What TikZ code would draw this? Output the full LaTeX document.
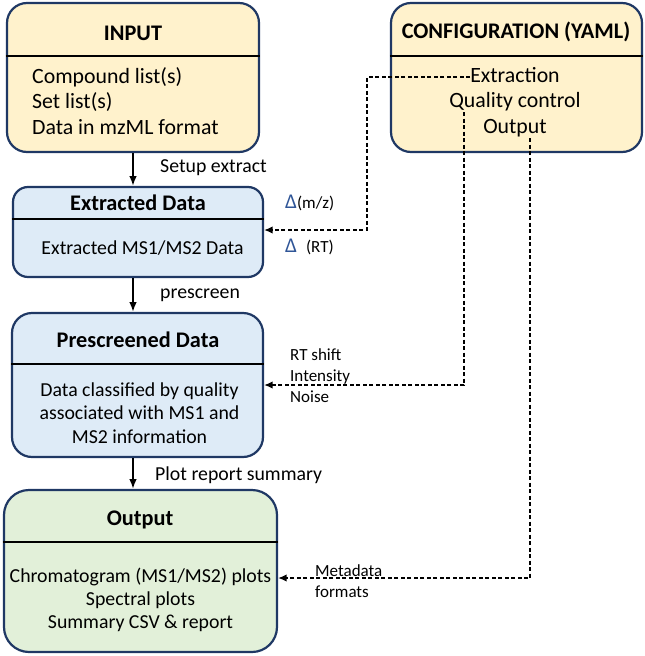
\documentclass[tikz,border=0pt]{standalone}
\usepackage{fontspec}
\setmainfont{Carlito}
\usepackage{tikz}
\usetikzlibrary{arrows.meta,positioning,calc}
\definecolor{inputyellow}{HTML}{FFF2CC}
\definecolor{dataBlue}{HTML}{DEEBF7}
\definecolor{outgreen}{HTML}{E2F0D9}
\definecolor{framenavy}{HTML}{1F3864}
\definecolor{deltablue}{HTML}{2F5597}
\newcommand{\titlesize}{\fontsize{22.3}{26}\selectfont\bfseries}
\newcommand{\bigbody}{\fontsize{21.8}{25.5}\selectfont}
\newcommand{\bodysize}{\fontsize{19.8}{23.3}\selectfont}
\newcommand{\notesize}{\fontsize{17}{21}\selectfont}

\begin{document}
\begin{tikzpicture}[x=1pt,y=-1pt,
    stagebox/.style={draw=framenavy,line width=2.2pt,rounded corners=20pt,inner sep=0pt},
    divider/.style={line width=1.4pt,black},
    flow/.style={-{Latex[length=3.4mm,width=2.6mm]},line width=1.6pt},
    cfglink/.style={-{Latex[length=3mm,width=2.6mm]},line width=1.5pt,dash pattern=on 4pt off 2.5pt}]
    \useasboundingbox (0,0) rectangle (645,656);
    % boxes
    \node[stagebox,fill=inputyellow,minimum width=252pt,minimum height=149pt] (input) at (133,77.5) {};
    \node[stagebox,fill=inputyellow,minimum width=251pt,minimum height=149pt] (config) at (516.5,77.5) {};
    \node[stagebox,fill=dataBlue,rounded corners=15pt,minimum width=250pt,minimum height=90pt] (extracted) at (138,232) {};
    \node[stagebox,fill=dataBlue,minimum width=251pt,minimum height=144pt] (prescreened) at (137.5,385) {};
    \node[stagebox,fill=outgreen,rounded corners=25pt,minimum width=273pt,minimum height=162pt] (output) at (140.5,571) {};
    % dividers
    \draw[divider] (input.west |- 0,56) -- (input.east |- 0,56);
    \draw[divider] (config.west |- 0,56) -- (config.east |- 0,56);
    \draw[divider] (extracted.west |- 0,219) -- (extracted.east |- 0,219);
    \draw[divider] (prescreened.west |- 0,364) -- (prescreened.east |- 0,364);
    \draw[divider] (output.west |- 0,542) -- (output.east |- 0,542);
    % titles
    \node[font=\titlesize] (inputtitle) at (133,33) {INPUT};
    \node[font=\titlesize] (configtitle) at (516,32) {CONFIGURATION (YAML)};
    \node[font=\titlesize] (extractedtitle) at (138,203) {Extracted Data};
    \node[font=\titlesize] (prescreenedtitle) at (138,340) {Prescreened Data};
    \node[font=\titlesize] (outputtitle) at (140,520) {Output};
    % box contents
    \node[font=\bigbody,align=left,anchor=west,inner sep=0pt] (inputbody) at (32,101) {Compound list(s)\\Set list(s)\\Data in mzML format};
    \node[font=\bigbody,inner sep=0pt] (cfgext) at (515,75) {Extraction};
    \node[font=\bigbody,inner sep=0pt] (cfgqc) at (515,102) {Quality control};
    \node[font=\bigbody,inner sep=0pt] (cfgout) at (515,128) {Output};
    \node[font=\bodysize,inner sep=0pt] (extractedbody) at (142.5,248) {Extracted MS1/MS2 Data};
    \node[font=\bodysize,align=center,inner sep=0pt] (prescreenedbody) at (139.5,413) {Data classified by quality\\associated with MS1 and\\MS2 information};
    \node[font=\bodysize,align=center,inner sep=0pt] (outputbody) at (140.5,600) {Chromatogram (MS1/MS2) plots\\Spectral plots\\Summary CSV \& report};
    % main flow
    \draw[flow] (input.south -| 133,0) -- (extracted.north -| 133,0);
    \draw[flow] (extracted.south -| 133,0) -- (prescreened.north -| 133,0);
    \draw[flow] (prescreened.south -| 133,0) -- (output.north -| 133,0);
    \node[font=\bodysize,anchor=west,inner sep=0pt] (setuplabel) at (160,168) {Setup extract};
    \node[font=\bodysize,anchor=west,inner sep=0pt] (prescreenlabel) at (160,295) {prescreen};
    \node[font=\bodysize,anchor=west,inner sep=0pt] (plotlabel) at (155,475) {Plot report summary};
    % configuration links
    \coordinate (extdrop) at (367,77);
    \coordinate (qcstart) at (464,112);
    \coordinate (outstart) at (530,138);
    \draw[cfglink] (cfgext.west |- extdrop) -- (extdrop) |- (extracted.east |- 0,230);
    \draw[cfglink] (qcstart) |- (prescreened.east);
    \draw[cfglink] (outstart) |- ($(output.east)+(0,7)$);
    % link labels
    \node[font=\notesize,anchor=west,inner sep=0pt] (mzlabel) at (285,203) {\textcolor{deltablue}{\fontsize{21}{21}\selectfont Δ}(m/z)};
    \node[font=\notesize,anchor=west,inner sep=0pt] (rtlabel) at (285,247) {\textcolor{deltablue}{\fontsize{21}{21}\selectfont Δ}\hspace{9pt}(RT)};
    \node[font=\notesize,align=left,anchor=west,inner sep=0pt] (qclabel) at (290,376) {RT shift\\Intensity\\Noise};
    \node[font=\notesize,align=left,anchor=west,inner sep=0pt] (metalabel) at (315,581) {Metadata\\formats};
  \end{tikzpicture}
\end{document}
